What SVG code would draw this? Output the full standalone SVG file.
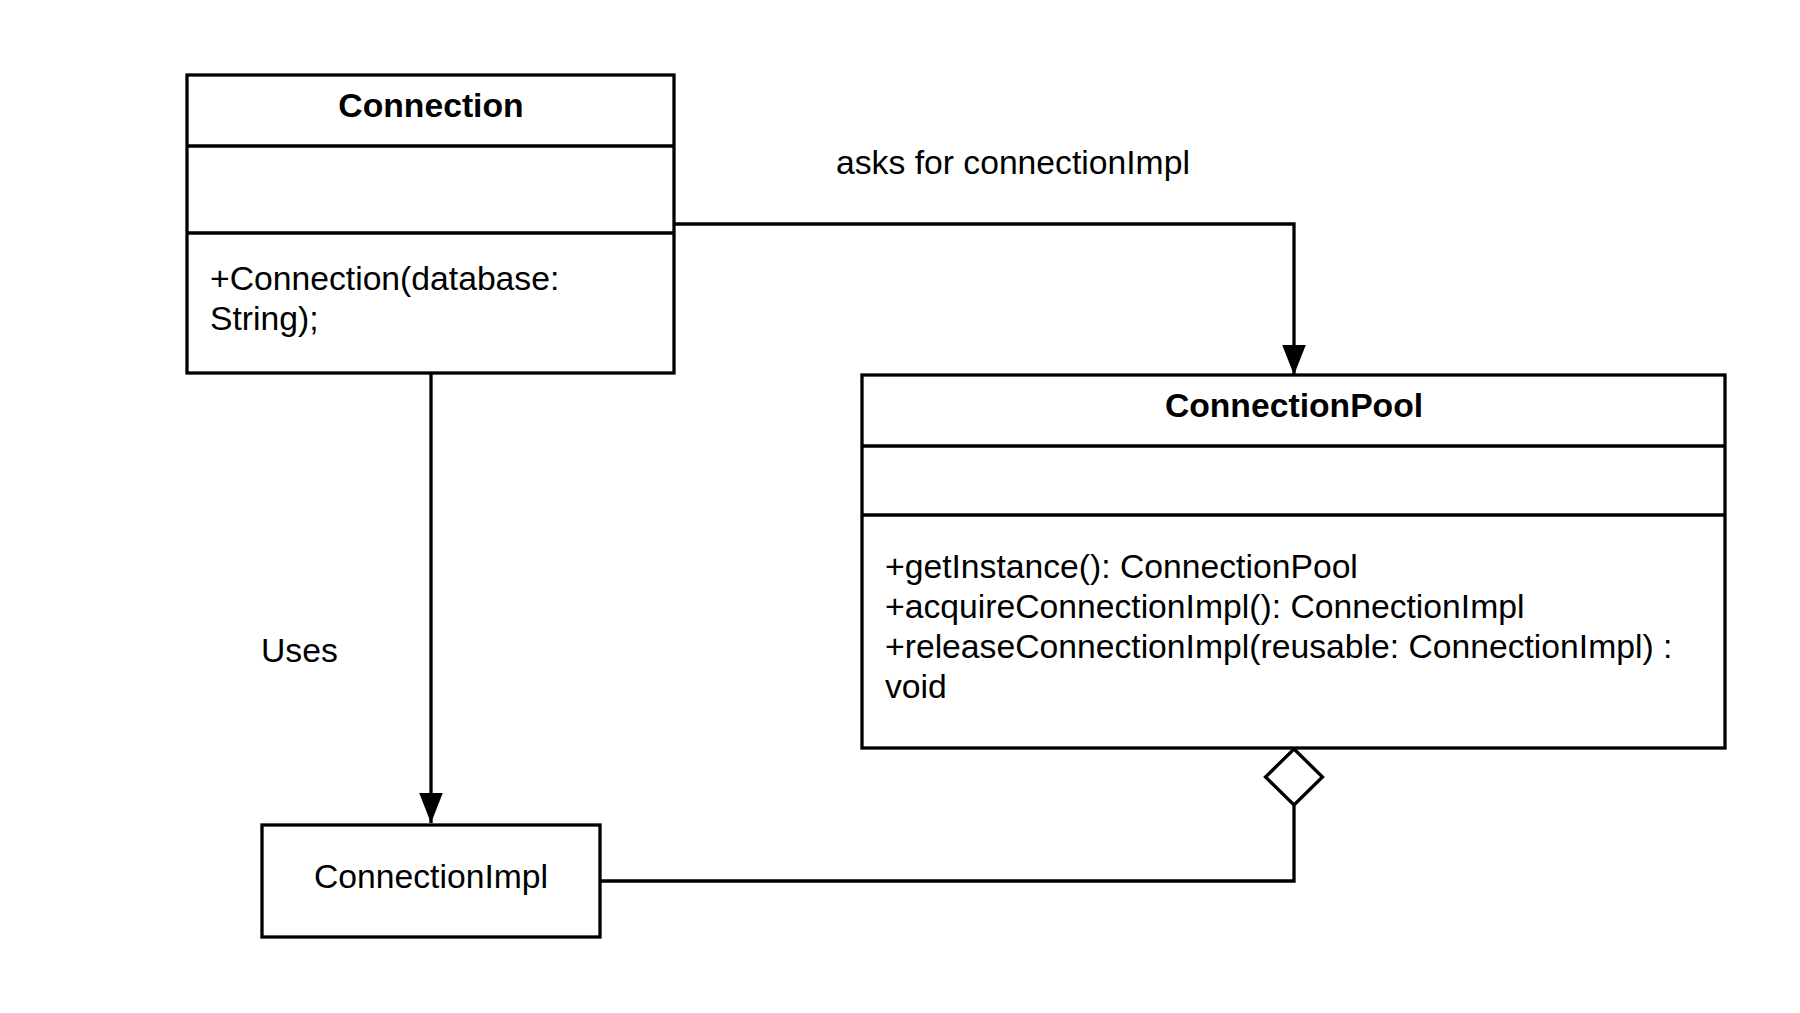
<svg xmlns="http://www.w3.org/2000/svg" width="1800" height="1013" viewBox="0 0 1800 1013">
<style>
.box{fill:#fff;stroke:#000;stroke-width:3.3}
.div{stroke:#000;stroke-width:3.3}
.t{font-family:"Liberation Sans",Arial,sans-serif;font-size:33.7px;fill:#000}
.b{font-weight:bold;text-anchor:middle}
.c{text-anchor:middle}
.ln{fill:none;stroke:#000;stroke-width:3.3}
</style>
<defs>
<marker id="arr" markerUnits="userSpaceOnUse" markerWidth="30" markerHeight="24" viewBox="0 0 28 22" refX="28" refY="11" orient="auto">
<path d="M0,0 L28,11 L0,22 Z" fill="#000"/>
</marker>
</defs>
<rect width="1800" height="1013" fill="#fff"/>
<g id="connectors">
<path class="ln" d="M674,224 H1294 V375" marker-end="url(#arr)"/>
<path class="ln" d="M431,373 V823" marker-end="url(#arr)"/>
<path class="ln" d="M600,881 H1294 V805"/>
<path d="M1294,749 L1322.5,777 L1294,805 L1265.5,777 Z" fill="#fff" stroke="#000" stroke-width="3.3"/>
<text class="t" x="836" y="174">asks for connectionImpl</text>
<text class="t" x="261" y="662">Uses</text>
</g>
<g id="Connection">
<rect class="box" x="187" y="75" width="487" height="298"/>
<line class="div" x1="187" y1="146" x2="674" y2="146"/>
<line class="div" x1="187" y1="233" x2="674" y2="233"/>
<text class="t b" x="431" y="117">Connection</text>
<text class="t" x="210" y="290">+Connection(database:</text>
<text class="t" x="210" y="330">String);</text>
</g>
<g id="ConnectionPool">
<rect class="box" x="862" y="375" width="863" height="373"/>
<line class="div" x1="862" y1="446" x2="1725" y2="446"/>
<line class="div" x1="862" y1="515" x2="1725" y2="515"/>
<text class="t b" x="1294" y="417">ConnectionPool</text>
<text class="t" x="885" y="578">+getInstance(): ConnectionPool</text>
<text class="t" x="885" y="618">+acquireConnectionImpl(): ConnectionImpl</text>
<text class="t" x="885" y="658">+releaseConnectionImpl(reusable: ConnectionImpl) :</text>
<text class="t" x="885" y="698">void</text>
</g>
<g id="ConnectionImpl">
<rect class="box" x="262" y="825" width="338" height="112"/>
<text class="t c" x="431" y="888">ConnectionImpl</text>
</g>
</svg>
